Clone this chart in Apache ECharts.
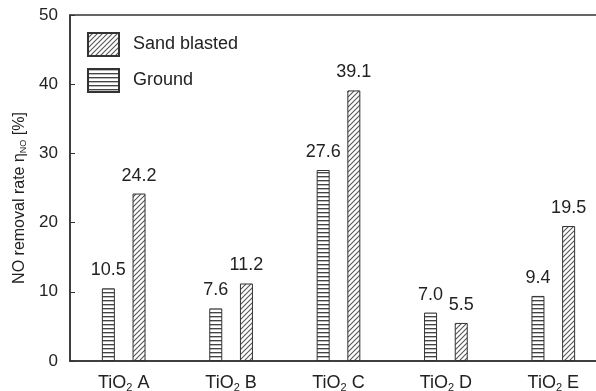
<!DOCTYPE html>
<html>
<head>
<meta charset="utf-8">
<script src="https://cdn.jsdelivr.net/npm/echarts@6/dist/echarts.min.js"></script>
<style>
  html, body { margin: 0; padding: 0; background: #fff; }
  #chart { width: 596px; height: 391px; }
</style>
</head>
<body>
<div id="chart"></div>
<script>
// Sample names and measured NO removal rates (%)
var categories = ['A', 'B', 'C', 'D', 'E'];
var groundValues = [10.5, 7.6, 27.6, 7.0, 9.4];
var sandBlastedValues = [24.2, 11.2, 39.1, 5.5, 19.5];
var yTicks = [0, 10, 20, 30, 40, 50];

var FONT = '"Liberation Sans", Arial, Helvetica, sans-serif';
var INK = '#222';
var LINE = '#333';

// Horizontal-line hatch for the ground samples
function makeHorizontalHatch() {
  var c = document.createElement('canvas');
  c.width = 4; c.height = 4;
  var ctx = c.getContext('2d');
  ctx.fillStyle = '#fff';
  ctx.fillRect(0, 0, 4, 4);
  ctx.fillStyle = '#444';
  ctx.fillRect(0, 0, 4, 1);
  ctx.fillStyle = '#bbb';
  ctx.fillRect(0, 1, 4, 1);
  return c;
}

// Diagonal "/" hatch for the sand blasted samples
function makeDiagonalHatch() {
  var s = 5;
  var c = document.createElement('canvas');
  c.width = s; c.height = s;
  var ctx = c.getContext('2d');
  ctx.fillStyle = '#fff';
  ctx.fillRect(0, 0, s, s);
  ctx.strokeStyle = '#555';
  ctx.lineWidth = 1.1;
  ctx.beginPath();
  ctx.moveTo(-1, 1); ctx.lineTo(1, -1);
  ctx.moveTo(0, s); ctx.lineTo(s, 0);
  ctx.moveTo(s - 1, s + 1); ctx.lineTo(s + 1, s - 1);
  ctx.stroke();
  return c;
}

var groundFill = { image: makeHorizontalHatch(), repeat: 'repeat' };
var sandFill = { image: makeDiagonalHatch(), repeat: 'repeat' };

var chart = echarts.init(document.getElementById('chart'), null, { renderer: 'canvas' });

var labelStyle = {
  show: true,
  position: 'top',
  distance: 9,
  fontSize: 18,
  fontFamily: FONT,
  color: INK,
  formatter: function (p) { return p.value.toFixed(1); }
};

chart.setOption({
  animation: false,
  backgroundColor: '#fff',
  textStyle: { fontFamily: FONT, color: INK },
  grid: {
    left: 70, top: 15, bottom: 30, right: -11,
    outerBoundsMode: 'none',
    containLabel: false,
    show: true,
    borderColor: LINE,
    borderWidth: 1.5,
    backgroundColor: 'transparent'
  },
  legend: {
    orient: 'vertical',
    left: 87, top: 32,
    padding: 0,
    itemWidth: 31, itemHeight: 23, itemGap: 11,
    icon: 'rect',
    data: ['Sand blasted', 'Ground'],
    textStyle: { fontSize: 18, fontFamily: FONT, color: INK, padding: [0, 0, 0, 9] }
  },
  xAxis: {
    type: 'category',
    data: categories,
    axisLine: { lineStyle: { color: LINE, width: 1.5 } },
    axisTick: { inside: true, length: 5, alignWithLabel: true, interval: 0, lineStyle: { color: LINE } },
    axisLabel: {
      interval: 0,
      margin: 12,
      formatter: function (v) { return 'TiO{sub|2} ' + v; },
      fontSize: 18, fontFamily: FONT, color: INK,
      rich: {
        sub: { fontSize: 11, fontFamily: FONT, color: INK, verticalAlign: 'bottom', padding: [9, 0, 0, 0] }
      }
    }
  },
  yAxis: {
    type: 'value',
    min: yTicks[0],
    max: yTicks[yTicks.length - 1],
    interval: yTicks[1] - yTicks[0],
    name: 'NO removal rate η{sub|NO} [%]',
    nameLocation: 'middle',
    nameGap: 42,
    nameTextStyle: {
      fontSize: 16, fontFamily: FONT, color: INK,
      padding: [0, 20, 0, 0],
      rich: {
        sub: { fontSize: 9, fontFamily: FONT, color: INK, verticalAlign: 'bottom', padding: [8, 0, 0, 0] }
      }
    },
    splitLine: { show: false },
    axisLine: { show: true, lineStyle: { color: LINE, width: 1.5 } },
    axisTick: { show: true, inside: true, length: 5, lineStyle: { color: LINE } },
    axisLabel: { margin: 12, fontSize: 17, fontFamily: FONT, color: INK }
  },
  series: [
    {
      name: 'Ground',
      type: 'bar',
      data: groundValues,
      barWidth: 13,
      barGap: '136%',
      itemStyle: { color: groundFill, borderColor: LINE, borderWidth: 1 },
      label: labelStyle
    },
    {
      name: 'Sand blasted',
      type: 'bar',
      data: sandBlastedValues,
      barWidth: 13,
      barGap: '136%',
      itemStyle: { color: sandFill, borderColor: LINE, borderWidth: 1 },
      label: labelStyle
    }
  ]
});
</script>
</body>
</html>
